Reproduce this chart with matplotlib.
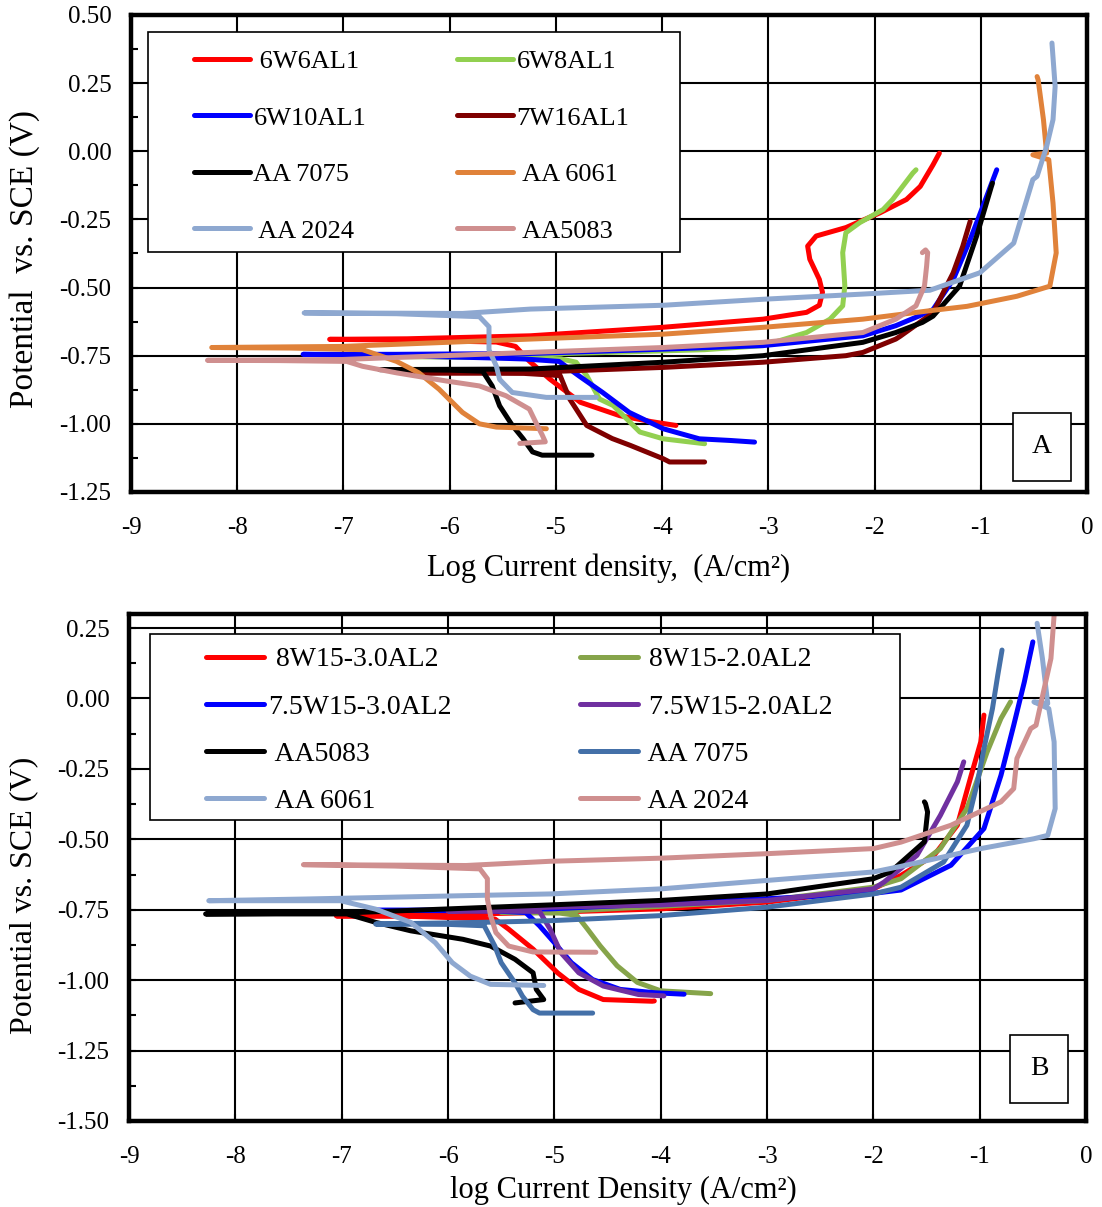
import matplotlib
matplotlib.use("Agg")
import matplotlib.pyplot as plt
from matplotlib.patches import Rectangle
from matplotlib.ticker import MultipleLocator, FormatStrFormatter

plt.rcParams['font.family'] = 'Liberation Serif'
plt.rcParams['axes.unicode_minus'] = False

# ---------------- panel A data (log i, E) in scan order -----------------
a_6w6al1_x = [-3.87, -4.10, -4.40, -4.77, -5.06, -5.25, -5.38, -5.56, -6.40, -7.13, -6.40, -5.24, -4.00,
              -3.05, -2.64, -2.52, -2.49, -2.52, -2.61, -2.63, -2.55, -2.27, -1.95, -1.70, -1.57, -1.45, -1.39]
a_6w6al1_y = [-1.006, -0.992, -0.970, -0.921, -0.835, -0.770, -0.716, -0.700, -0.693, -0.690, -0.688, -0.677, -0.646,
              -0.616, -0.591, -0.565, -0.518, -0.470, -0.396, -0.348, -0.311, -0.280, -0.226, -0.177, -0.129, -0.050, -0.007]

a_6w8al1_x = [-3.60, -3.99, -4.21, -4.46, -4.59, -4.71, -4.81, -4.95, -5.60, -6.30, -7.00, -6.30, -5.24, -4.50,
              -3.60, -3.05, -2.64, -2.42, -2.30, -2.28, -2.30, -2.27, -2.14, -1.92, -1.83, -1.64, -1.61]
a_6w8al1_y = [-1.073, -1.055, -1.030, -0.933, -0.909, -0.823, -0.774, -0.762, -0.757, -0.754, -0.752, -0.750, -0.745, -0.738,
              -0.728, -0.713, -0.665, -0.616, -0.567, -0.494, -0.372, -0.299, -0.262, -0.214, -0.177, -0.080, -0.068]

a_6w10al1_x = [-3.13, -3.36, -3.65, -3.99, -4.31, -4.56, -4.78, -4.97, -5.30, -5.63, -6.50, -7.38, -6.50, -5.24,
               -3.99, -3.05, -2.11, -1.80, -1.58, -1.45, -1.26, -1.10, -0.98, -0.85]
a_6w10al1_y = [-1.067, -1.061, -1.055, -1.018, -0.958, -0.885, -0.825, -0.771, -0.762, -0.758, -0.750, -0.745, -0.745, -0.742,
               -0.726, -0.713, -0.677, -0.640, -0.604, -0.581, -0.471, -0.324, -0.202, -0.068]

a_7w16al1_x = [-3.60, -3.93, -3.99, -4.30, -4.47, -4.71, -4.87, -4.96, -5.30, -6.40, -5.24, -3.99, -3.05, -2.27,
               -2.11, -1.80, -1.76, -1.45, -1.26, -1.17, -1.10]
a_7w16al1_y = [-1.140, -1.140, -1.128, -1.079, -1.054, -1.006, -0.909, -0.823, -0.815, -0.813, -0.811, -0.793, -0.774, -0.750,
               -0.738, -0.689, -0.679, -0.593, -0.446, -0.349, -0.257]

a_aa7075_x = [-4.66, -5.13, -5.22, -5.31, -5.41, -5.53, -5.60, -5.69, -6.00, -6.66, -6.00, -5.24, -3.99, -3.05,
              -2.11, -1.80, -1.55, -1.45, -1.20, -1.04, -0.90, -0.89]
a_aa7075_y = [-1.115, -1.115, -1.103, -1.054, -1.006, -0.934, -0.861, -0.807, -0.803, -0.801, -0.800, -0.799, -0.774, -0.750,
              -0.701, -0.665, -0.628, -0.605, -0.495, -0.312, -0.129, -0.117]

a_aa6061_x = [-5.09, -5.56, -5.72, -5.88, -6.10, -6.29, -6.50, -6.82, -7.50, -8.24, -7.01, -5.24, -3.99, -3.05,
              -2.11, -1.48, -1.13, -0.66, -0.35, -0.29, -0.32, -0.36, -0.51, -0.38, -0.41, -0.46, -0.47]
a_aa6061_y = [-1.018, -1.012, -1.000, -0.958, -0.873, -0.813, -0.771, -0.728, -0.722, -0.720, -0.716, -0.689, -0.671, -0.646,
              -0.616, -0.585, -0.569, -0.532, -0.495, -0.373, -0.190, -0.031, -0.013, -0.007, 0.116, 0.262, 0.274]

a_aa2024_x = [-4.62, -5.09, -5.41, -5.53, -5.56, -5.63, -5.63, -5.72, -6.50, -7.37, -5.88, -5.24, -3.99, -3.05,
              -2.11, -1.48, -1.01, -0.69, -0.60, -0.51, -0.47, -0.38, -0.32, -0.30, -0.33]
a_aa2024_y = [-0.903, -0.903, -0.885, -0.837, -0.789, -0.728, -0.644, -0.607, -0.596, -0.593, -0.595, -0.579, -0.565, -0.543,
              -0.524, -0.510, -0.446, -0.337, -0.220, -0.104, -0.092, 0.018, 0.116, 0.238, 0.397]

a_aa5083_x = [-5.34, -5.10, -5.13, -5.19, -5.25, -5.47, -5.72, -6.03, -6.50, -6.82, -6.97, -7.60, -8.28, -7.01,
              -5.24, -3.99, -3.05, -2.11, -1.80, -1.61, -1.53, -1.51, -1.50, -1.52, -1.55]
a_aa5083_y = [-1.072, -1.066, -1.040, -0.994, -0.946, -0.897, -0.861, -0.843, -0.813, -0.789, -0.771, -0.768, -0.767, -0.764,
              -0.738, -0.720, -0.701, -0.665, -0.616, -0.567, -0.494, -0.421, -0.372, -0.362, -0.372]

# ---------------- panel B data -----------------
b_8w15_30_x = [-4.06, -4.08, -4.54, -4.77, -4.97, -5.20, -5.43, -5.56, -6.30, -7.05, -6.30, -5.04, -4.00, -3.00,
               -2.00, -1.74, -1.43, -1.21, -1.08, -0.99, -0.96]
b_8w15_30_y = [-1.074, -1.075, -1.069, -1.033, -0.974, -0.890, -0.819, -0.783, -0.774, -0.772, -0.770, -0.759, -0.747, -0.723,
               -0.676, -0.628, -0.557, -0.450, -0.273, -0.154, -0.059]

b_8w15_20_x = [-3.53, -4.00, -4.22, -4.41, -4.57, -4.69, -4.79, -4.95, -5.50, -4.95, -4.00, -3.00, -2.00, -1.74,
               -1.37, -1.12, -0.93, -0.80, -0.71]
b_8w15_20_y = [-1.048, -1.038, -1.008, -0.949, -0.878, -0.818, -0.770, -0.762, -0.760, -0.756, -0.738, -0.717, -0.670, -0.640,
               -0.533, -0.391, -0.190, -0.071, -0.012]

b_75w15_30_x = [-3.78, -4.05, -4.38, -4.64, -4.84, -5.00, -5.14, -5.27, -5.60, -6.70, -5.60, -5.04, -4.00, -3.00,
                -2.00, -1.74, -1.27, -0.96, -0.80, -0.68, -0.58, -0.50]
b_75w15_30_y = [-1.050, -1.045, -1.033, -0.998, -0.938, -0.867, -0.807, -0.760, -0.754, -0.752, -0.750, -0.747, -0.729, -0.711,
                -0.692, -0.680, -0.592, -0.462, -0.273, -0.095, 0.059, 0.201]

b_75w15_20_x = [-3.97, -4.21, -4.54, -4.77, -4.94, -5.04, -5.14, -5.50, -6.00, -5.50, -5.04, -4.00, -3.00, -2.00,
                -1.90, -1.59, -1.37, -1.21, -1.15]
b_75w15_20_y = [-1.056, -1.051, -1.021, -0.974, -0.902, -0.819, -0.756, -0.755, -0.755, -0.748, -0.741, -0.733, -0.717, -0.676,
                -0.652, -0.557, -0.415, -0.296, -0.225]

b_aa5083_x = [-5.37, -5.10, -5.17, -5.20, -5.37, -5.60, -5.86, -6.35, -6.68, -6.95, -7.60, -8.28, -7.01, -5.04,
              -4.00, -3.00, -2.00, -1.84, -1.52, -1.49, -1.51, -1.52]
b_aa5083_y = [-1.081, -1.069, -1.033, -0.974, -0.926, -0.879, -0.855, -0.825, -0.795, -0.765, -0.765, -0.765, -0.762, -0.733,
              -0.717, -0.694, -0.640, -0.616, -0.509, -0.403, -0.373, -0.367]

b_aa7075_x = [-4.64, -5.14, -5.20, -5.30, -5.37, -5.50, -5.56, -5.66, -6.00, -6.68, -5.70, -5.04, -4.00, -3.00,
              -2.00, -1.74, -1.34, -1.12, -1.02, -0.96, -0.88, -0.83, -0.79]
b_aa7075_y = [-1.117, -1.117, -1.105, -1.057, -1.010, -0.938, -0.879, -0.807, -0.802, -0.801, -0.795, -0.789, -0.771, -0.741,
              -0.694, -0.670, -0.581, -0.450, -0.296, -0.178, -0.036, 0.083, 0.172]

b_aa6061_x = [-5.10, -5.60, -5.79, -5.96, -6.12, -6.35, -6.68, -7.01, -7.60, -8.25, -7.34, -5.83, -5.04, -4.00,
              -3.00, -2.00, -1.74, -0.99, -0.49, -0.36, -0.29, -0.30, -0.35, -0.49, -0.36, -0.41, -0.46]
b_aa6061_y = [-1.019, -1.015, -0.986, -0.938, -0.867, -0.795, -0.748, -0.718, -0.718, -0.718, -0.712, -0.700, -0.694, -0.676,
              -0.646, -0.616, -0.596, -0.533, -0.498, -0.486, -0.391, -0.154, -0.036, -0.012, -0.018, 0.142, 0.267]

b_aa2024_x = [-4.61, -5.20, -5.43, -5.55, -5.60, -5.63, -5.63, -5.70, -6.50, -7.36, -5.83, -5.04, -4.00, -3.00,
              -2.00, -1.74, -1.27, -0.80, -0.68, -0.65, -0.52, -0.47, -0.40, -0.33, -0.30]
b_aa2024_y = [-0.901, -0.900, -0.879, -0.831, -0.771, -0.712, -0.640, -0.605, -0.595, -0.590, -0.593, -0.578, -0.567, -0.551,
              -0.533, -0.510, -0.450, -0.367, -0.320, -0.213, -0.107, -0.095, 0.024, 0.142, 0.296]

# labels (Excel order, leading spaces as in the original legend)
labels_a = [' 6W6AL1', '6W8AL1', '6W10AL1', '7W16AL1', 'AA 7075', ' AA 6061', ' AA 2024', ' AA5083']
labels_b = [' 8W15-3.0AL2', ' 8W15-2.0AL2', '7.5W15-3.0AL2', ' 7.5W15-2.0AL2', ' AA5083', ' AA 7075', ' AA 6061', ' AA 2024']

curves_a = [(a_6w6al1_x, a_6w6al1_y), (a_6w8al1_x, a_6w8al1_y), (a_6w10al1_x, a_6w10al1_y), (a_7w16al1_x, a_7w16al1_y),
            (a_aa7075_x, a_aa7075_y), (a_aa6061_x, a_aa6061_y), (a_aa2024_x, a_aa2024_y), (a_aa5083_x, a_aa5083_y)]
curves_b = [(b_8w15_30_x, b_8w15_30_y), (b_8w15_20_x, b_8w15_20_y), (b_75w15_30_x, b_75w15_30_y), (b_75w15_20_x, b_75w15_20_y),
            (b_aa5083_x, b_aa5083_y), (b_aa7075_x, b_aa7075_y), (b_aa6061_x, b_aa6061_y), (b_aa2024_x, b_aa2024_y)]

colors_a = ['#FF0000', '#92D050', '#0000FF', '#7F0000', '#000000', '#E0823A', '#8EA8D0', '#CF8F8F']
colors_b = ['#FF0000', '#86A44A', '#0000FF', '#7030A0', '#000000', '#4470A8', '#8EA8D0', '#CF8F8F']


def style_axes(ax, ymin, ymax):
    ax.set_xlim(-9, 0)
    ax.set_ylim(ymin, ymax)
    ax.xaxis.set_major_locator(MultipleLocator(1))
    ax.yaxis.set_major_locator(MultipleLocator(0.25))
    ax.yaxis.set_minor_locator(MultipleLocator(0.125))
    ax.yaxis.set_major_formatter(FormatStrFormatter('%.2f'))
    ax.grid(True, which='major', color='black', lw=1.5)
    ax.set_axisbelow(True)
    for s in ax.spines.values():
        s.set_linewidth(3.2)
    ax.tick_params(which='both', direction='in', length=5, width=1.5, labelsize=18, pad=14)
    ax.tick_params(axis='x', pad=18)


def draw_panel(ax, curves, colors, labels, leg_anchor, leg_box, leg_size, leg_spacing, col_spacing, tag_box, tag):
    lines = []
    for (xs, ys), c, lab in zip(curves, colors, labels):
        ln, = ax.plot(xs, ys, color=c, lw=3.6, label=lab, solid_capstyle='round', solid_joinstyle='round')
        lines.append(ln)
    # white legend frame
    ax.add_patch(Rectangle((leg_box[0], leg_box[1]), leg_box[2], leg_box[3], transform=ax.transAxes,
                           facecolor='white', edgecolor='black', lw=1.2, zorder=5))
    order = [0, 2, 4, 6, 1, 3, 5, 7]
    leg = ax.legend([lines[i] for i in order], [labels[i] for i in order], ncol=2, frameon=False,
                    loc='upper left', bbox_to_anchor=leg_anchor, borderaxespad=0, borderpad=0,
                    fontsize=leg_size, handlelength=2.1, handletextpad=0.15,
                    labelspacing=leg_spacing, columnspacing=col_spacing)
    leg.set_zorder(6)
    # panel tag box
    ax.add_patch(Rectangle((tag_box[0], tag_box[1]), tag_box[2], tag_box[3], transform=ax.transAxes,
                           facecolor='white', edgecolor='black', lw=1.2, zorder=5))
    ax.text(tag_box[0] + tag_box[2] / 2, tag_box[1] + tag_box[3] / 2, tag, transform=ax.transAxes,
            ha='center', va='center', fontsize=20, zorder=6)


fig = plt.figure(figsize=(11.02, 12.07), dpi=100)
ax_a = fig.add_axes([0.1189, 0.5924, 0.8675, 0.3952])
ax_b = fig.add_axes([0.1171, 0.0713, 0.8684, 0.4200])

style_axes(ax_a, -1.25, 0.5)
style_axes(ax_b, -1.5, 0.3)

draw_panel(ax_a, curves_a, colors_a, labels_a, (0.066, 0.927), (0.0178, 0.5031, 0.5565, 0.4613),
           19, 1.25, 3.45, (0.9226, 0.023, 0.0607, 0.1426), 'A')
draw_panel(ax_b, curves_b, colors_b, labels_b, (0.0805, 0.935), (0.0219, 0.5937, 0.7837, 0.3669),
           20, 0.78, 4.6, (0.9206, 0.0355, 0.0606, 0.134), 'B')

ax_a.set_xlabel('Log Current density,  (A/cm²)', fontsize=22)
ax_a.set_ylabel('Potential  vs. SCE (V)', fontsize=24)
ax_a.xaxis.set_label_coords(0.5, -0.13)
ax_a.yaxis.set_label_coords(-0.095, 0.488)

ax_b.set_xlabel('log Current Density (A/cm²)', fontsize=22)
ax_b.set_ylabel('Potential vs. SCE (V)', fontsize=23)
ax_b.xaxis.set_label_coords(0.517, -0.108)
ax_b.yaxis.set_label_coords(-0.095, 0.445)

fig.savefig('out.png', dpi=100)
